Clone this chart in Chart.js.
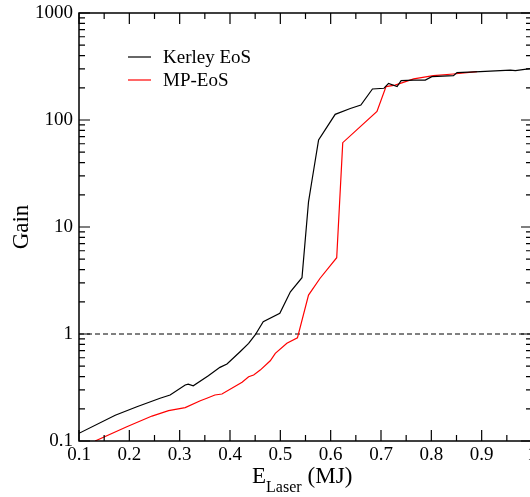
<!DOCTYPE html>
<html lang="en">
<head>
    <meta charset="UTF-8">
    <title>Gain vs Laser Energy</title>
    <script src="https://cdn.jsdelivr.net/npm/chart.js"></script>
    <style>
        html, body { margin: 0; padding: 0; background: #fff; overflow: hidden; }
        #wrap { position: relative; width: 533px; height: 497px; }
    </style>
</head>
<body>
    <div id="wrap"><canvas id="gainChart"></canvas></div>

    <script>
        // Kerley EoS curve
        const kerleyE = [0.100, 0.172, 0.215, 0.261, 0.281, 0.311, 0.317, 0.327, 0.357, 0.380, 0.394, 0.420,
            0.437, 0.450, 0.466, 0.499, 0.520, 0.543, 0.556, 0.563, 0.576, 0.609, 0.639, 0.660, 0.683, 0.706,
            0.715, 0.732, 0.740, 0.765, 0.788, 0.801, 0.844, 0.851, 0.897, 0.957, 0.967, 1.000];
        const kerleyGain = [0.118, 0.174, 0.209, 0.251, 0.269, 0.334, 0.340, 0.328, 0.408, 0.488, 0.524, 0.683,
            0.818, 0.98, 1.30, 1.56, 2.48, 3.36, 17.2, 27.5, 65, 113, 128, 138, 195, 198,
            220, 205, 233, 236, 236, 254, 260, 277, 283, 293, 290, 304];

        // MP-EoS curve
        const mpE = [0.132, 0.195, 0.245, 0.278, 0.311, 0.341, 0.354, 0.370, 0.384, 0.424, 0.437, 0.447,
            0.460, 0.480, 0.490, 0.513, 0.534, 0.556, 0.579, 0.612, 0.624, 0.692, 0.710, 0.728,
            0.765, 0.804, 0.844, 0.891];
        const mpGain = [0.100, 0.136, 0.171, 0.192, 0.205, 0.238, 0.251, 0.269, 0.275, 0.354, 0.399, 0.414,
            0.46, 0.562, 0.66, 0.818, 0.92, 2.31, 3.32, 5.16, 61.4, 120, 205, 212,
            242, 260, 269, 283];

        // gain = 1 reference line
        const refE = [0.1, 1.0];
        const refGain = [1, 1];

        const xTicks = [0.1, 0.2, 0.3, 0.4, 0.5, 0.6, 0.7, 0.8, 0.9, 1.0];
        const yTicks = [0.1, 1, 10, 100, 1000];
        const seriesNames = ['Kerley EoS', 'MP-EoS'];

        const SERIF = '"Liberation Serif", "DejaVu Serif", serif';
        const toPoints = (xs, ys) => xs.map((x, i) => ({ x: x, y: ys[i] }));

        // no label overhang padding, the frame sits at fixed place
        const noPad = s => { s.paddingTop = 0; s.paddingBottom = 0; s.paddingLeft = 0; s.paddingRight = 0; };

        // frame, inward ticks, legend and axis titles (xmgrace look)
        const gracePlugin = {
            id: 'grace',
            afterDraw(chart) {
                const ctx = chart.ctx;
                const a = chart.chartArea;
                const xs = chart.scales.x, ys = chart.scales.y;
                ctx.save();
                ctx.strokeStyle = '#000';
                ctx.lineWidth = 1.5;
                ctx.strokeRect(a.left, a.top, a.right - a.left, a.bottom - a.top);

                ctx.lineWidth = 1.2;
                ctx.beginPath();
                const major = 11, minor = 6;
                // x ticks top + bottom
                xTicks.forEach((v, i) => {
                    const px = xs.getPixelForValue(v);
                    ctx.moveTo(px, a.bottom); ctx.lineTo(px, a.bottom - major);
                    ctx.moveTo(px, a.top); ctx.lineTo(px, a.top + major);
                    if (i < xTicks.length - 1) {
                        const m = xs.getPixelForValue((v + xTicks[i + 1]) / 2);
                        ctx.moveTo(m, a.bottom); ctx.lineTo(m, a.bottom - minor);
                        ctx.moveTo(m, a.top); ctx.lineTo(m, a.top + minor);
                    }
                });
                // y ticks left + right
                yTicks.forEach((v, i) => {
                    const py = ys.getPixelForValue(v);
                    ctx.moveTo(a.left, py); ctx.lineTo(a.left + major, py);
                    ctx.moveTo(a.right, py); ctx.lineTo(a.right - major, py);
                    if (i < yTicks.length - 1) {
                        for (let k = 2; k <= 9; k++) {
                            const m = ys.getPixelForValue(v * k);
                            ctx.moveTo(a.left, m); ctx.lineTo(a.left + minor, m);
                            ctx.moveTo(a.right, m); ctx.lineTo(a.right - minor, m);
                        }
                    }
                });
                ctx.stroke();

                // legend
                const colors = ['#000000', '#ff0000'];
                ctx.font = '19px ' + SERIF;
                ctx.textAlign = 'left';
                ctx.textBaseline = 'alphabetic';
                seriesNames.forEach((name, i) => {
                    const ly = 57 + i * 23;
                    ctx.strokeStyle = colors[i];
                    ctx.lineWidth = 1.2;
                    ctx.beginPath();
                    ctx.moveTo(128, ly); ctx.lineTo(151, ly);
                    ctx.stroke();
                    ctx.fillStyle = '#000';
                    ctx.fillText(name, 163, ly + 6);
                });

                // y title
                ctx.fillStyle = '#000';
                ctx.save();
                ctx.translate(28, (a.top + a.bottom) / 2);
                ctx.rotate(-Math.PI / 2);
                ctx.font = '23px ' + SERIF;
                ctx.textAlign = 'center';
                ctx.fillText('Gain', 0, 0);
                ctx.restore();

                // x title: E_Laser (MJ)
                ctx.textAlign = 'left';
                let tx = 252;
                const base = 483;
                ctx.font = '23px ' + SERIF;
                ctx.fillText('E', tx, base);
                tx += ctx.measureText('E').width;
                ctx.font = '16px ' + SERIF;
                ctx.fillText('Laser', tx, base + 9);
                tx += ctx.measureText('Laser').width + 6;
                ctx.font = '23px ' + SERIF;
                ctx.fillText('(MJ)', tx, base);
                ctx.restore();
            }
        };

        new Chart(document.getElementById('gainChart'), {
            type: 'line',
            data: {
                datasets: [
                    { label: seriesNames[0], data: toPoints(kerleyE, kerleyGain), borderColor: '#000000', borderWidth: 1.2 },
                    { label: seriesNames[1], data: toPoints(mpE, mpGain), borderColor: '#ff0000', borderWidth: 1.2 },
                    { label: 'ref', data: toPoints(refE, refGain), borderColor: '#000000', borderWidth: 1, borderDash: [5, 3] }
                ]
            },
            options: {
                responsive: true,
                maintainAspectRatio: false,
                animation: false,
                elements: { point: { radius: 0 }, line: { tension: 0 } },
                layout: { padding: { top: 13, right: 1, left: 0, bottom: 0 } },
                plugins: { legend: { display: false }, tooltip: { enabled: false } },
                scales: {
                    x: {
                        type: 'linear',
                        min: 0.1,
                        max: 1.0,
                        grid: { display: false, drawTicks: false },
                        border: { display: false },
                        afterBuildTicks: s => { s.ticks = xTicks.map(v => ({ value: v })); },
                        afterFit: s => { s.height = 56; noPad(s); },
                        ticks: {
                            color: '#000',
                            font: { family: SERIF, size: 19 },
                            padding: 3,
                            maxRotation: 0,
                            autoSkip: false,
                            callback: v => String(Math.round(v * 10) / 10)
                        }
                    },
                    y: {
                        type: 'logarithmic',
                        min: 0.1,
                        max: 1000,
                        grid: { display: false, drawTicks: false },
                        border: { display: false },
                        afterBuildTicks: s => { s.ticks = yTicks.map(v => ({ value: v })); },
                        afterFit: s => { s.width = 79; noPad(s); },
                        ticks: {
                            color: '#000',
                            font: { family: SERIF, size: 19 },
                            padding: 6,
                            autoSkip: false,
                            callback: v => String(v)
                        }
                    }
                }
            },
            plugins: [gracePlugin]
        });
    </script>
</body>
</html>
